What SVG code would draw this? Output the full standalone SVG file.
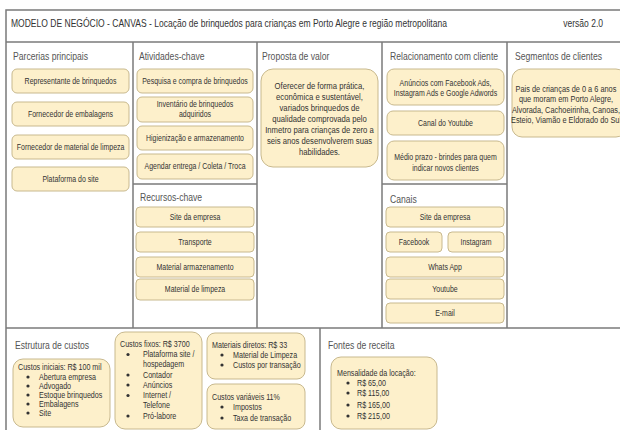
<svg xmlns="http://www.w3.org/2000/svg" width="620" height="430" viewBox="0 0 620 430">
<style>
text { font-family: 'Liberation Sans', Arial, sans-serif; fill: #333; transform-box: fill-box; transform: scaleX(0.82); }
.title { font-size: 10.4px; transform-origin: left center; }
.end { transform-origin: right center; }
.h { font-size: 10.5px; fill: #555; transform-origin: left center; }
.b { font-size: 8.5px; text-anchor: middle; transform-origin: center; }
.p { font-size: 9.4px; text-anchor: middle; transform-origin: center; }
.s { font-size: 9px; text-anchor: middle; transform-origin: center; }
.l { font-size: 8.7px; transform-origin: left center; }
.dot { fill: #333; }
.box { fill: #fdf0cb; stroke: #c8b98e; stroke-width: 1; }
.frame { fill: none; stroke: #7a7a7a; stroke-width: 1.5; }
</style>
<rect width="620" height="430" fill="#fff"/>
<g id="frame">
<rect class="frame" x="6" y="10" width="700" height="500" fill="#fff"/>
<line class="frame" x1="6" y1="42" x2="620" y2="42"/>
<line class="frame" x1="133" y1="42" x2="133" y2="328"/>
<line class="frame" x1="257" y1="42" x2="257" y2="328"/>
<line class="frame" x1="382" y1="42" x2="382" y2="328"/>
<line class="frame" x1="507" y1="42" x2="507" y2="328"/>
<line class="frame" x1="133" y1="184" x2="257" y2="184"/>
<line class="frame" x1="382" y1="184" x2="507" y2="184"/>
<line class="frame" x1="6" y1="328" x2="620" y2="328"/>
<line class="frame" x1="320" y1="328" x2="320" y2="430"/>
<text class="title" x="11" y="27">MODELO DE NEGÓCIO - CANVAS - Locação de brinquedos para crianças em Porto Alegre e região metropolitana</text>
<text class="title end" x="603" y="27" text-anchor="end">versão 2.0</text>
</g>
<g id="parcerias">
<text class="h" x="13" y="60">Parcerias principais</text>
<rect class="box" x="12" y="69" width="117" height="24" rx="5"/>
<text class="b" x="70.5" y="84">Representante de brinquedos</text>
<rect class="box" x="12" y="102" width="117" height="24" rx="5"/>
<text class="b" x="70.5" y="117">Fornecedor de embalagens</text>
<rect class="box" x="12" y="135" width="117" height="24" rx="5"/>
<text class="b" x="70.5" y="150">Fornecedor de material de limpeza</text>
<rect class="box" x="12" y="167" width="117" height="24" rx="5"/>
<text class="b" x="70.5" y="182">Plataforma do site</text>
</g>
<g id="atividades">
<text class="h" x="139" y="60">Atividades-chave</text>
<rect class="box" x="137" y="69" width="116" height="24" rx="5"/>
<text class="b" x="195" y="84">Pesquisa e compra de brinquedos</text>
<rect class="box" x="137" y="97" width="116" height="25" rx="5"/>
<text class="b" x="195" y="107">Inventário de brinquedos</text>
<text class="b" x="195" y="117">adquiridos</text>
<rect class="box" x="137" y="126" width="116" height="24" rx="5"/>
<text class="b" x="195" y="141">Higienização e armazenamento</text>
<rect class="box" x="137" y="154" width="116" height="25" rx="5"/>
<text class="b" x="195" y="169.5">Agendar entrega / Coleta / Troca</text>
</g>
<g id="recursos">
<text class="h" x="140" y="201">Recursos-chave</text>
<rect class="box" x="136" y="207" width="118" height="20" rx="4"/>
<text class="b" x="195" y="220">Site da empresa</text>
<rect class="box" x="136" y="232" width="118" height="20" rx="4"/>
<text class="b" x="195" y="245">Transporte</text>
<rect class="box" x="136" y="257" width="118" height="20" rx="4"/>
<text class="b" x="195" y="270">Material armazenamento</text>
<rect class="box" x="136" y="279" width="118" height="21" rx="4"/>
<text class="b" x="195" y="292.5">Material de limpeza</text>
</g>
<g id="proposta">
<text class="h" x="262" y="60">Proposta de valor</text>
<rect class="box" x="261" y="69" width="117" height="98" rx="12"/>
<text class="p" x="319.5" y="89">Oferecer de forma prática,</text>
<text class="p" x="319.5" y="100">econômica e sustentável,</text>
<text class="p" x="319.5" y="111">variados brinquedos de</text>
<text class="p" x="319.5" y="122">qualidade comprovada pelo</text>
<text class="p" x="319.5" y="133">Inmetro para crianças de zero a</text>
<text class="p" x="319.5" y="144">seis anos desenvolverem suas</text>
<text class="p" x="319.5" y="155">habilidades.</text>
</g>
<g id="relacionamento">
<text class="h" x="390" y="60">Relacionamento com cliente</text>
<rect class="box" x="387" y="69" width="117" height="36" rx="7"/>
<text class="b" x="445.5" y="86">Anúncios com Facebook Ads,</text>
<text class="b" x="445.5" y="96">Instagram Ads e Google Adwords</text>
<rect class="box" x="387" y="111" width="117" height="24" rx="6"/>
<text class="b" x="445.5" y="126">Canal do Youtube</text>
<rect class="box" x="387" y="141" width="117" height="39" rx="7"/>
<text class="b" x="445.5" y="160">Médio prazo - brindes para quem</text>
<text class="b" x="445.5" y="171">indicar novos clientes</text>
</g>
<g id="canais">
<text class="h" x="390" y="203">Canais</text>
<rect class="box" x="386" y="207" width="118" height="20" rx="4"/>
<text class="b" x="445" y="220">Site da empresa</text>
<rect class="box" x="386" y="232" width="56" height="20" rx="4"/>
<text class="b" x="414" y="245">Facebook</text>
<rect class="box" x="448" y="232" width="56" height="20" rx="4"/>
<text class="b" x="476" y="245">Instagram</text>
<rect class="box" x="386" y="257" width="118" height="20" rx="4"/>
<text class="b" x="445" y="270">Whats App</text>
<rect class="box" x="386" y="279" width="118" height="20" rx="4"/>
<text class="b" x="445" y="292">Youtube</text>
<rect class="box" x="386" y="303" width="118" height="20" rx="4"/>
<text class="b" x="445" y="316">E-mail</text>
</g>
<g id="segmentos">
<text class="h" x="515" y="60">Segmentos de clientes</text>
<rect class="box" x="512" y="69" width="114" height="68" rx="10"/>
<text class="s" x="566" y="92">Pais de crianças de 0 a 6 anos</text>
<text class="s" x="566" y="102.5">que moram em Porto Alegre,</text>
<text class="s" x="566" y="113">Alvorada, Cachoeirinha, Canoas,</text>
<text class="s" x="566" y="123.5">Esteio, Viamão e Eldorado do Sul</text>
</g>
<g id="custos">
<text class="h" x="15" y="349">Estrutura de custos</text>
<rect class="box" x="13" y="359" width="97" height="68" rx="10"/>
<text class="l" x="18" y="370">Custos iniciais: R$ 100 mil</text>
<circle class="dot" cx="28" cy="377" r="1.6"/><text class="l" x="39" y="380">Abertura empresa</text>
<circle class="dot" cx="28" cy="386" r="1.6"/><text class="l" x="39" y="389">Advogado</text>
<circle class="dot" cx="28" cy="395" r="1.6"/><text class="l" x="39" y="398">Estoque brinquedos</text>
<circle class="dot" cx="28" cy="404" r="1.6"/><text class="l" x="39" y="407">Embalagens</text>
<circle class="dot" cx="28" cy="413" r="1.6"/><text class="l" x="39" y="416">Site</text>
</g>
<g id="custos-fixos">
<rect class="box" x="115" y="332" width="87" height="97" rx="10"/>
<text class="l" x="120" y="347">Custos fixos: R$ 3700</text>
<circle class="dot" cx="128" cy="354.5" r="1.6"/><text class="l" x="143" y="357.5">Plataforma site /</text>
<text class="l" x="143" y="367.5">hospedagem</text>
<circle class="dot" cx="128" cy="375" r="1.6"/><text class="l" x="143" y="378">Contador</text>
<circle class="dot" cx="128" cy="385" r="1.6"/><text class="l" x="143" y="388">Anúncios</text>
<circle class="dot" cx="128" cy="395.5" r="1.6"/><text class="l" x="143" y="398.5">Internet /</text>
<text class="l" x="143" y="408.5">Telefone</text>
<circle class="dot" cx="128" cy="416" r="1.6"/><text class="l" x="143" y="419">Pró-labore</text>
</g>
<g id="materiais-diretos">
<rect class="box" x="207" y="333" width="98" height="46" rx="8"/>
<text class="l" x="212" y="348">Materiais diretos: R$ 33</text>
<circle class="dot" cx="222" cy="355" r="1.6"/><text class="l" x="233" y="358">Material de Limpeza</text>
<circle class="dot" cx="222" cy="365" r="1.6"/><text class="l" x="233" y="368">Custos por transação</text>
</g>
<g id="custos-variaveis">
<rect class="box" x="207" y="384" width="98" height="45" rx="8"/>
<text class="l" x="212" y="400">Custos variáveis 11%</text>
<circle class="dot" cx="222" cy="407" r="1.6"/><text class="l" x="233" y="410">Impostos</text>
<circle class="dot" cx="222" cy="418" r="1.6"/><text class="l" x="233" y="421">Taxa de transação</text>
</g>
<g id="receita">
<text class="h" x="328" y="349">Fontes de receita</text>
<rect class="box" x="331" y="357" width="106" height="72" rx="10"/>
<text class="l" x="337" y="376">Mensalidade da locação:</text>
<circle class="dot" cx="348" cy="383" r="1.6"/><text class="l" x="357" y="386">R$ 65,00</text>
<circle class="dot" cx="348" cy="393" r="1.6"/><text class="l" x="357" y="396">R$ 115,00</text>
<circle class="dot" cx="348" cy="405" r="1.6"/><text class="l" x="357" y="408">R$ 165,00</text>
<circle class="dot" cx="348" cy="416" r="1.6"/><text class="l" x="357" y="419">R$ 215,00</text>
</g>
<g id="connectors"></g>
</svg>
